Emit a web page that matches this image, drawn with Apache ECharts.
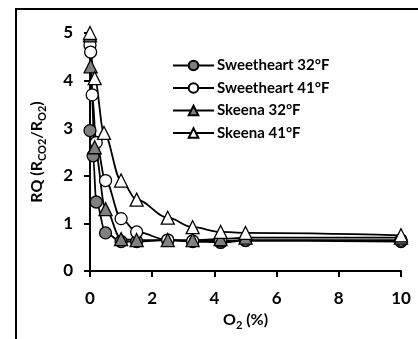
<!DOCTYPE html>
<html><head><meta charset="utf-8">
<script src="https://cdn.jsdelivr.net/npm/echarts@6/dist/echarts.min.js"></script>
<style>html,body{margin:0;padding:0;background:#fff}#c{width:418px;height:339px}</style>
</head><body><div id="c"></div>
<script>
const seriesNames = ['Sweetheart 32°F', 'Sweetheart 41°F', 'Skeena 32°F', 'Skeena 41°F'];
const sw32X = [0, 0.1, 0.2, 0.5, 1, 1.5, 2.5, 3.3, 4.2, 5, 10];
const sw32Y = [2.95, 2.42, 1.45, 0.8, 0.62, 0.62, 0.65, 0.62, 0.6, 0.64, 0.62];
const sw41X = [0, 0.02, 0.07, 0.2, 0.5, 1, 1.5, 2.5, 3.3, 4.2, 5, 10];
const sw41Y = [4.75, 4.6, 3.7, 2.7, 1.9, 1.1, 0.82, 0.65, 0.63, 0.63, 0.65, 0.65];
const sk32X = [0, 0.02, 0.15, 0.5, 1, 1.5, 2.5, 3.3, 4.2, 5, 10];
const sk32Y = [4.95, 4.3, 2.6, 1.3, 0.67, 0.65, 0.65, 0.65, 0.67, 0.7, 0.7];
const sk41X = [0, 0.15, 0.45, 1, 1.5, 2.5, 3.3, 4.2, 5, 10];
const sk41Y = [5.0, 4.05, 2.9, 1.9, 1.5, 1.12, 0.92, 0.82, 0.8, 0.75];
const xTicks = [0, 2, 4, 6, 8, 10];
const yTicks = [0, 1, 2, 3, 4, 5];

const FONT = 'Lato';
const zip = (xs, ys) => xs.map((x, i) => [x, ys[i]]);
const specs = [
  { name: seriesNames[0], data: zip(sw32X, sw32Y), symbol: 'circle', fill: '#808080', size: 12 },
  { name: seriesNames[1], data: zip(sw41X, sw41Y), symbol: 'circle', fill: '#ffffff', size: 12 },
  { name: seriesNames[2], data: zip(sk32X, sk32Y), symbol: 'triangle', fill: '#808080', size: 13 },
  { name: seriesNames[3], data: zip(sk41X, sk41Y), symbol: 'triangle', fill: '#ffffff', size: 13 }
];

const chart = echarts.init(document.getElementById('c'), null, { renderer: 'canvas' });
chart.setOption({
  animation: false,
  backgroundColor: '#fff',
  graphic: [{
    type: 'rect', shape: { x: 16, y: 9, width: 430, height: 360 },
    style: { fill: 'none', stroke: '#000', lineWidth: 2 }, z: 100
  }],
  grid: { left: 90, right: 17, top: 33, bottom: 68 },
  legend: {
    orient: 'vertical', left: 167, top: 53,
    itemWidth: 41, itemHeight: 12, itemGap: 7.5,
    textStyle: { fontFamily: FONT, fontWeight: 'bold', fontSize: 15, color: '#000', padding: [0, 0, 0, -2] },
    data: seriesNames
  },
  xAxis: {
    type: 'value', min: 0, max: 10, interval: 2,
    axisLine: { show: true, lineStyle: { color: '#000', width: 2 } },
    axisTick: { show: true, length: 6, lineStyle: { color: '#000', width: 2 } },
    axisLabel: { margin: 19, fontFamily: FONT, fontWeight: 'bold', fontSize: 17, color: '#000',
      formatter: v => xTicks.includes(v) ? String(v) : '' },
    splitLine: { show: false },
    name: '{b|O}{s|2}{b| (%)}', nameLocation: 'middle', nameGap: 37,
    nameTextStyle: { rich: {
      b: { fontFamily: FONT, fontWeight: 'bold', fontSize: 16, color: '#000', lineHeight: 20, verticalAlign: 'bottom', padding: [0, 0, 3, 0] },
      s: { fontFamily: FONT, fontWeight: 'bold', fontSize: 11, color: '#000', lineHeight: 20, verticalAlign: 'bottom' }
    } }
  },
  yAxis: {
    type: 'value', min: 0, max: 5, interval: 1,
    axisLine: { show: true, lineStyle: { color: '#000', width: 2 } },
    axisTick: { show: true, length: 6, lineStyle: { color: '#000', width: 2 } },
    axisLabel: { margin: 17, fontFamily: FONT, fontWeight: 'bold', fontSize: 17, color: '#000',
      formatter: v => yTicks.includes(v) ? String(v) : '' },
    splitLine: { show: false },
    name: '{b|RQ (R}{s|CO2}{b|/R}{s|O2}{b|)}', nameLocation: 'middle', nameGap: 42, nameRotate: 90,
    nameTextStyle: { rich: {
      b: { fontFamily: FONT, fontWeight: 'bold', fontSize: 16, color: '#000', lineHeight: 20, verticalAlign: 'bottom', padding: [0, 0, 3, 0] },
      s: { fontFamily: FONT, fontWeight: 'bold', fontSize: 11, color: '#000', lineHeight: 20, verticalAlign: 'bottom' }
    } }
  },
  series: specs.map(s => ({
    type: 'line', name: s.name, data: s.data,
    smooth: 0.35, smoothMonotone: 'x',
    symbol: s.symbol, symbolSize: s.size, showSymbol: true,
    lineStyle: { color: '#000', width: 1.8 },
    itemStyle: { color: s.fill, borderColor: '#000', borderWidth: 1.3 },
    emphasis: { disabled: true }
  }))
});
</script></body></html>
